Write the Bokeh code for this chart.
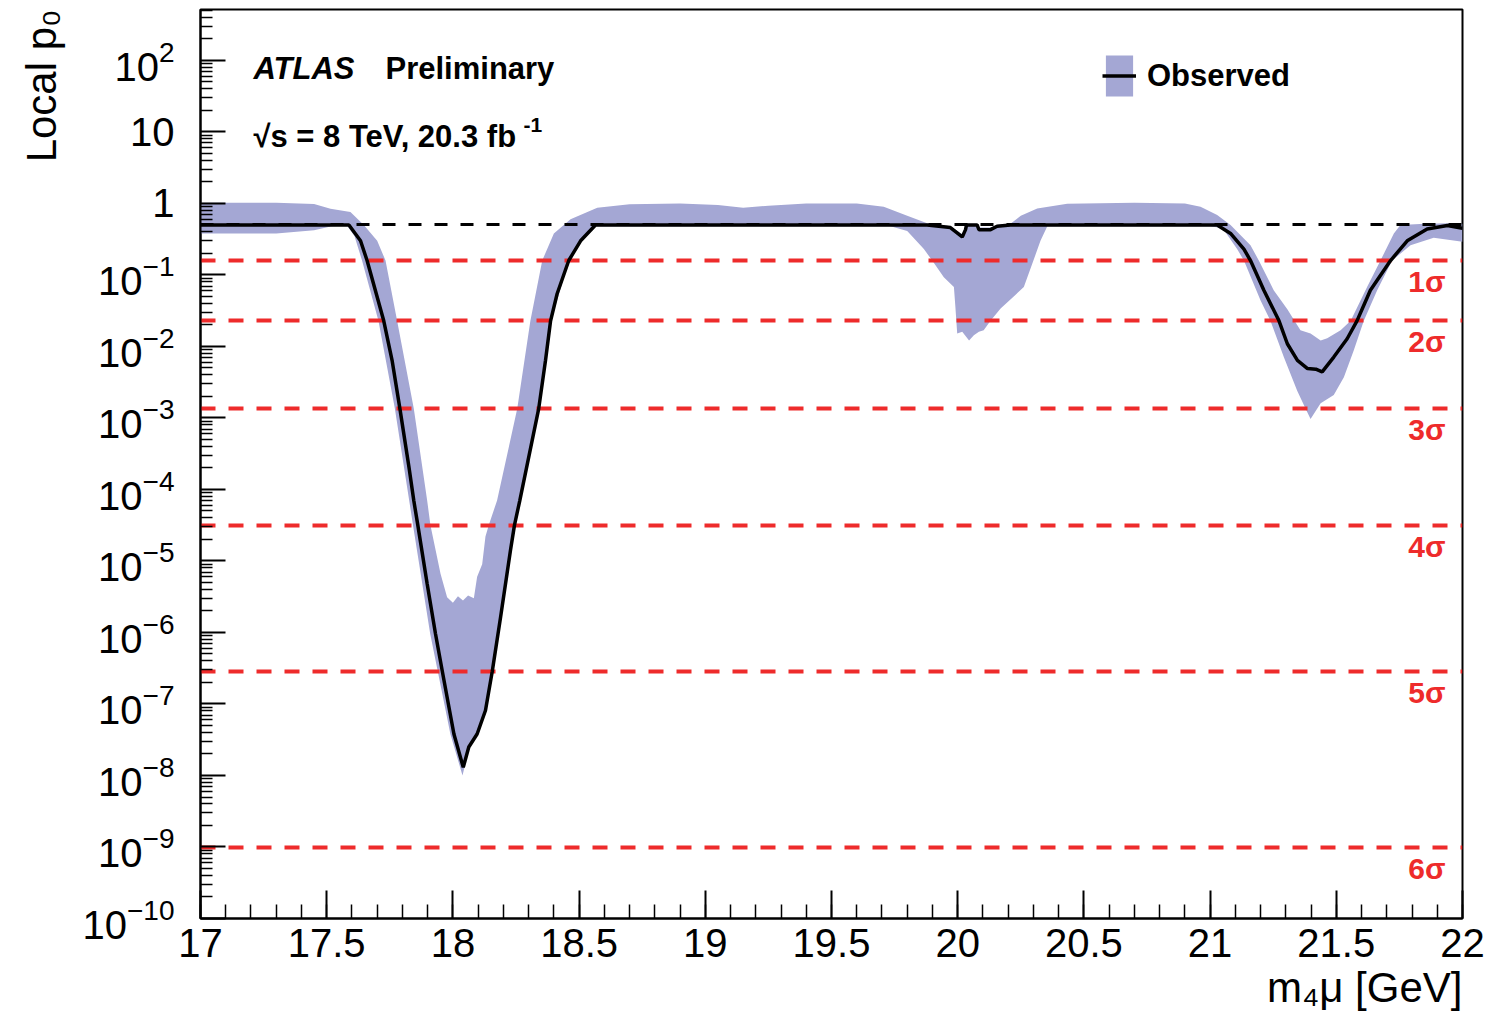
from bokeh.plotting import figure
from bokeh.models import (Range1d, FixedTicker, LogTickFormatter, Label,
                          Legend, LegendItem, Title)
from bokeh.core.properties import value
from bokeh.embed import file_html
from bokeh.resources import INLINE

# ---------------- data ----------------
obs_mass = [17.00, 17.30, 17.588, 17.634, 17.660, 17.726, 17.759, 17.790, 17.826, 17.845,
            17.861, 17.898, 17.931, 17.958, 18.004, 18.041, 18.063, 18.096, 18.129, 18.156,
            18.189, 18.228, 18.244, 18.265, 18.340, 18.367, 18.387, 18.413, 18.459, 18.506,
            18.565, 18.80, 19.20, 19.60, 19.879, 19.971, 20.018, 20.031, 20.035, 20.077,
            20.084, 20.130, 20.156, 20.209, 20.60, 21.028, 21.081, 21.134, 21.160, 21.213,
            21.273, 21.306, 21.346, 21.386, 21.419, 21.444, 21.490, 21.543, 21.582, 21.635,
            21.715, 21.781, 21.860, 21.940, 22.000]
obs_p = [0.50, 0.50, 0.50, 0.30, 0.159, 0.0228, 0.0064, 1.35e-3, 2.05e-4, 7.0e-5,
         3.17e-5, 4.8e-6, 9.6e-7, 2.87e-7, 3.8e-8, 1.3e-8, 2.5e-8, 3.8e-8, 8.1e-8, 2.87e-7,
         1.64e-6, 1.4e-5, 3.17e-5, 7.0e-5, 1.35e-3, 6.4e-3, 0.0228, 0.0546, 0.159, 0.30,
         0.50, 0.50, 0.50, 0.50, 0.50, 0.46, 0.34, 0.43, 0.50, 0.50,
         0.43, 0.43, 0.48, 0.50, 0.50, 0.50, 0.38, 0.23, 0.159, 0.061,
         0.0228, 0.0109, 0.0064, 0.0049, 0.0048, 0.0044, 0.0071, 0.0128, 0.0228, 0.061,
         0.159, 0.30, 0.44, 0.49, 0.45]

band_hi_mass = [17.00, 17.30, 17.45, 17.515, 17.594, 17.647, 17.700, 17.733, 17.779, 17.845,
                17.898, 17.911, 17.951, 17.977, 18.000, 18.020, 18.040, 18.060, 18.083, 18.096,
                18.116, 18.129, 18.142, 18.175, 18.255, 18.307, 18.354, 18.400, 18.466, 18.572,
                18.700, 18.900, 19.050, 19.150, 19.250, 19.400, 19.600, 19.707, 19.800, 19.879,
                19.971, 20.018, 20.031, 20.035, 20.077, 20.084, 20.130, 20.156, 20.209, 20.250,
                20.315, 20.434, 20.700, 20.900, 20.962, 21.028, 21.081, 21.160, 21.193, 21.252,
                21.306, 21.358, 21.398, 21.438, 21.464, 21.517, 21.557, 21.622, 21.675, 21.728,
                21.754, 21.850, 21.950, 22.000]
band_hi_p = [1.02, 1.02, 0.98, 0.84, 0.76, 0.50, 0.30, 0.159, 0.0228, 1.35e-3,
             7.0e-5, 3.17e-5, 6.6e-6, 3.1e-6, 2.6e-6, 3.2e-6, 2.8e-6, 3.3e-6, 3.0e-6, 6.0e-6,
             9.0e-6, 2.2e-5, 3.17e-5, 7.0e-5, 1.35e-3, 0.0228, 0.159, 0.38, 0.60, 0.87,
             0.97, 1.00, 0.95, 0.87, 0.93, 1.00, 1.00, 0.90, 0.67, 0.53,
             0.48, 0.37, 0.46, 0.52, 0.52, 0.46, 0.46, 0.50, 0.52, 0.67,
             0.85, 0.99, 1.02, 1.00, 0.90, 0.69, 0.50, 0.26, 0.159, 0.061,
             0.033, 0.0168, 0.0152, 0.0121, 0.013, 0.0168, 0.0228, 0.068, 0.159, 0.38,
             0.50, 0.52, 0.53, 0.52]

band_lo_mass = [17.00, 17.30, 17.45, 17.52, 17.58, 17.61, 17.64, 17.705, 17.77, 17.842,
                17.91, 17.94, 17.99, 18.038, 18.063, 18.096, 18.129, 18.156, 18.189, 18.244,
                18.340, 18.387, 18.459, 18.506, 18.565, 19.00, 19.734, 19.800, 19.866, 19.899,
                19.945, 19.985, 19.991, 19.998, 20.018, 20.045, 20.064, 20.084, 20.103, 20.130,
                20.170, 20.222, 20.262, 20.300, 20.328, 20.355, 21.000, 21.050, 21.107, 21.134,
                21.200, 21.239, 21.292, 21.345, 21.378, 21.398, 21.438, 21.490, 21.530, 21.569,
                21.609, 21.662, 21.721, 21.794, 21.886, 22.000]
band_lo_p = [0.38, 0.38, 0.42, 0.48, 0.49, 0.35, 0.159, 0.0228, 1.35e-3, 3.17e-5,
             9.6e-7, 2.87e-7, 3.8e-8, 1.0e-8, 2.3e-8, 3.6e-8, 7.8e-8, 2.8e-7, 1.6e-6, 3.1e-5,
             1.3e-3, 0.022, 0.155, 0.29, 0.48, 0.48, 0.48, 0.41, 0.23, 0.159,
             0.093, 0.068, 0.035, 0.0152, 0.016, 0.0121, 0.0143, 0.016, 0.0168, 0.0228,
             0.034, 0.05, 0.068, 0.159, 0.30, 0.48, 0.48, 0.45, 0.23, 0.159,
             0.044, 0.0228, 0.0071, 0.0024, 0.00135, 9.7e-4, 1.6e-3, 0.0021, 0.0037, 0.0088,
             0.0228, 0.061, 0.159, 0.26, 0.33, 0.29]

sigma_labels = ["1σ", "2σ", "3σ", "4σ", "5σ", "6σ"]
sigma_p = [1.587e-1, 2.275e-2, 1.350e-3, 3.167e-5, 2.867e-7, 9.866e-10]
ref_p = [0.5]

x_ticks = [17.0, 17.5, 18.0, 18.5, 19.0, 19.5, 20.0, 20.5, 21.0, 21.5, 22.0]
x_tick_labels = ["17", "17.5", "18", "18.5", "19", "19.5", "20", "20.5", "21", "21.5", "22"]
x_minor = [17 + 0.1 * i for i in range(51)]
y_ticks = [1e-10, 1e-9, 1e-8, 1e-7, 1e-6, 1e-5, 1e-4, 1e-3, 1e-2, 1e-1, 1.0, 10.0, 100.0]
y_minor = [k * 10.0 ** e for e in range(-10, 3) for k in range(2, 10)]

# ---------------- style ----------------
FONT = "Liberation Sans"
BAND = "#a4a7d4"
RED = "#ee2b2b"

p = figure(width=1488, height=1025, x_range=Range1d(17, 22), y_range=Range1d(1e-10, 515),
           y_axis_type="log", output_backend="svg", toolbar_location=None,
           min_border_left=200, min_border_right=26, min_border_top=9, min_border_bottom=107)
p.background_fill_color = "white"
p.border_fill_color = "white"
p.xgrid.visible = False
p.ygrid.visible = False
p.outline_line_color = "black"
p.outline_line_width = 2

band_x = band_hi_mass + band_lo_mass[::-1]
band_y = band_hi_p + band_lo_p[::-1]
band_r = p.patch(band_x, band_y, fill_color=BAND, line_color=None)

p.hspan(y=sigma_p, line_color=RED, line_width=4, line_dash="15 13")
p.hspan(y=ref_p, line_color="black", line_width=3, line_dash="13 13")

obs_r = p.line(obs_mass, obs_p, line_color="black", line_width=3.5)

p.text(x=[p.x_range.end] * len(sigma_p), y=sigma_p, text=sigma_labels,
       x_offset=-17, y_offset=21, text_align="right", text_baseline="middle",
       text_color=RED, text_font=value(FONT), text_font_style="bold",
       text_font_size="30px")

# axes
for ax in (p.xaxis[0], p.yaxis[0]):
    ax.axis_line_width = 2
    ax.major_tick_line_width = 2
    ax.minor_tick_line_width = 1.5
    ax.major_tick_out = 0
    ax.minor_tick_out = 0
    ax.major_label_text_font = FONT
    ax.major_label_text_font_size = "40px"
    ax.major_label_text_color = "black"

p.xaxis.ticker = FixedTicker(ticks=x_ticks, minor_ticks=x_minor)
p.xaxis.major_label_overrides = dict(zip(x_ticks, x_tick_labels))
p.xaxis.major_tick_in = 28
p.xaxis.minor_tick_in = 14
p.xaxis.major_label_standoff = 10

p.yaxis.ticker = FixedTicker(ticks=y_ticks, minor_ticks=y_minor)
p.yaxis.formatter = LogTickFormatter()
p.yaxis.major_label_overrides = {1.0: "1", 10.0: "10"}
p.yaxis.major_tick_in = 25
p.yaxis.minor_tick_in = 12
p.yaxis.major_label_standoff = 26

# axis titles (as side titles, aligned to the axis ends like ROOT)
p.add_layout(Title(text="Local p₀", align="right", text_font=FONT, text_font_size="42px",
                   text_font_style="normal", text_color="black", standoff=30), "left")
p.add_layout(Title(text="m₄μ [GeV]", align="right", text_font=FONT, text_font_size="42px",
                   text_font_style="normal", text_color="black", standoff=4), "below")

# legend
legend = Legend(items=[LegendItem(label="Observed", renderers=[band_r, obs_r])],
                location=(902, 817), glyph_width=34, glyph_height=51, label_height=51,
                label_standoff=11, padding=0, margin=0, border_line_color=None,
                background_fill_alpha=0, label_text_font=FONT, label_text_font_style="bold",
                label_text_font_size="31px", label_text_baseline="middle",
                label_text_color="black")
p.add_layout(legend)

# texts inside the frame
def lab(x, y, text, size, style="normal"):
    p.add_layout(Label(x=x, y=y, x_units="screen", y_units="screen", text=text,
                       text_font=FONT, text_font_size=size, text_font_style=style,
                       text_align="left", text_baseline="alphabetic", text_color="black"))

lab(53, 850, "ATLAS", "31px", "bold italic")
lab(185, 850, "Preliminary", "31px", "bold")
lab(53, 782, "√s = 8 TeV, 20.3 fb", "31px", "bold")
lab(323, 794, "-1", "21px", "bold")

open("out.html", "w").write(file_html(p, INLINE))
